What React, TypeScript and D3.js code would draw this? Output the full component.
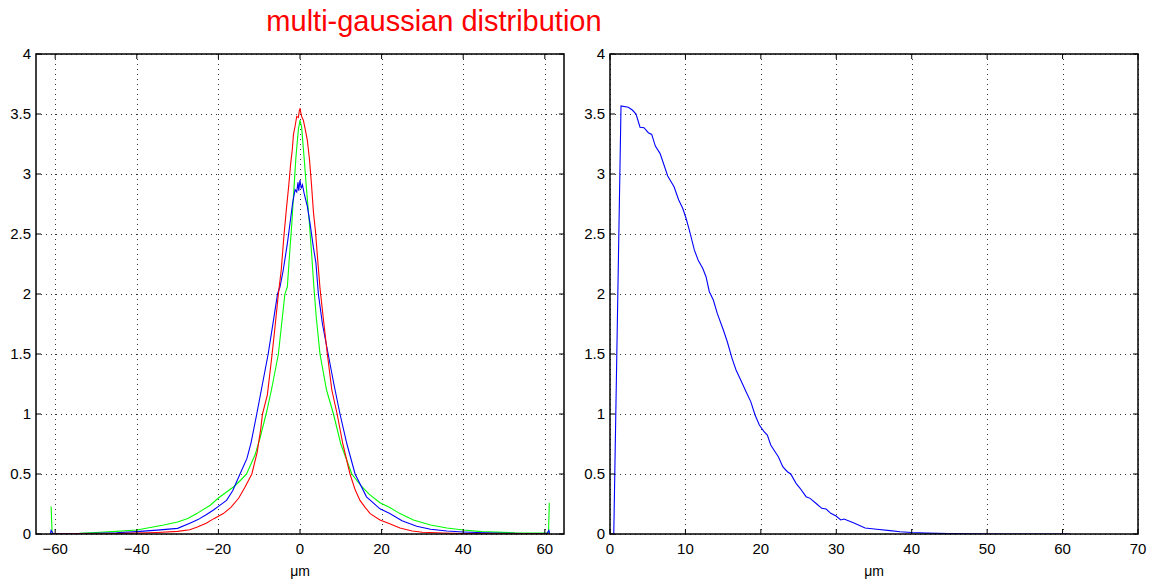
import React from 'react';
import * as d3 from 'd3';

const TITLE = 'multi-gaussian distribution';
const X_LABEL = 'μm';

const leftXTicks = [-60, -40, -20, 0, 20, 40, 60];
const rightXTicks = [0, 10, 20, 30, 40, 50, 60, 70];
const yTicks = [0, 0.5, 1, 1.5, 2, 2.5, 3, 3.5, 4];
const yTickLabels = ['0', '0.5', '1', '1.5', '2', '2.5', '3', '3.5', '4'];

// left panel: red series
const redX = [-61, -50, -45, -40, -35, -30, -27, -25, -23, -21, -18.8, -17, -15, -13.5, -11.8, -10.5, -9.6, -9.2, -8, -7, -6.2, -5.3, -4.6, -3.9, -3.3, -2.8, -2.3, -1.9, -1.6, -1.2, -0.8, -0.4, -0.2, 0, 0.25, 0.5, 0.8, 1.3, 1.8, 2.3, 2.8, 3.3, 3.8, 4.3, 4.9, 5.7, 6.7, 7.8, 9.1, 10.5, 12.25, 13.5, 14.7, 16, 17.2, 19.6, 22, 24.5, 27.5, 30, 35, 40, 50, 61];
const redY = [0, 0.002, 0.004, 0.007, 0.013, 0.022, 0.035, 0.06, 0.09, 0.13, 0.17, 0.22, 0.3, 0.39, 0.5, 0.68, 0.88, 1.0, 1.16, 1.45, 1.7, 2.0, 2.2, 2.5, 2.72, 2.89, 3.08, 3.2, 3.33, 3.4, 3.48, 3.47, 3.52, 3.55, 3.5, 3.47, 3.45, 3.37, 3.28, 3.13, 2.92, 2.68, 2.52, 2.3, 2.05, 1.8, 1.5, 1.2, 1.0, 0.75, 0.5, 0.37, 0.28, 0.22, 0.17, 0.117, 0.085, 0.05, 0.025, 0.015, 0.008, 0.004, 0.002, 0];

// left panel: blue series
const blueX = [-61.2, -61, -60.5, -55, -50, -45, -40, -35, -30, -27, -25, -23, -21.2, -20, -18, -16.5, -14.7, -13, -12, -10.6, -9.2, -7.8, -6.6, -5.5, -4.9, -4.1, -3.1, -2.45, -1.8, -1.2, -0.8, -0.5, -0.3, 0, 0.3, 0.6, 1.0, 1.8, 2.45, 3.27, 3.9, 4.5, 5.5, 6.9, 8.3, 9.8, 11.5, 13.5, 16.3, 19.6, 22, 25, 28.6, 32, 36, 40, 45, 50, 55, 60.5, 61, 61.2];
const blueY = [0, 0.03, 0.003, 0.004, 0.006, 0.01, 0.02, 0.032, 0.047, 0.09, 0.12, 0.16, 0.2, 0.23, 0.28, 0.36, 0.5, 0.63, 0.76, 1.0, 1.25, 1.5, 1.76, 2.0, 2.06, 2.2, 2.42, 2.59, 2.76, 2.87, 2.85, 2.93, 2.86, 2.95, 2.88, 2.91, 2.84, 2.73, 2.59, 2.39, 2.26, 2.0, 1.75, 1.5, 1.25, 1.0, 0.75, 0.5, 0.31, 0.21, 0.17, 0.11, 0.065, 0.04, 0.025, 0.017, 0.01, 0.006, 0.004, 0.003, 0.03, 0];

// left panel: green series
const greenX = [-61, -60.75, -54, -50, -46, -40, -33.4, -30, -27.5, -25.3, -22, -20, -18, -16, -14.5, -13.1, -11, -9.8, -8.3, -7, -5.3, -4.5, -3.7, -3.1, -2.6, -2.0, -1.5, -1.0, -0.4, 0, 0.4, 1.0, 1.6, 2.3, 2.9, 3.4, 4.0, 4.9, 6.5, 8.2, 10, 12.7, 15, 17, 19.6, 22, 24.5, 27.8, 32, 36, 40, 44.5, 52.7, 60, 60.9, 61.1];
const greenY = [0.23, 0.004, 0.005, 0.012, 0.02, 0.033, 0.075, 0.1, 0.13, 0.17, 0.24, 0.3, 0.35, 0.4, 0.45, 0.5, 0.66, 0.8, 1.0, 1.2, 1.5, 1.75, 2.0, 2.06, 2.31, 2.59, 2.87, 3.14, 3.37, 3.45, 3.39, 3.14, 2.87, 2.59, 2.31, 2.06, 1.8, 1.5, 1.2, 1.0, 0.75, 0.5, 0.4, 0.33, 0.26, 0.22, 0.17, 0.117, 0.075, 0.05, 0.033, 0.02, 0.01, 0.008, 0.008, 0.26];

// right panel: blue series
const distX = [0.5, 1.46, 2.43, 2.96, 3.45, 3.98, 4.51, 5.08, 5.53, 6.01, 6.63, 7.16, 7.65, 8.49, 9.11, 9.64, 10.08, 10.52, 11.18, 11.71, 12.29, 12.73, 13.17, 13.7, 14.23, 15.03, 15.56, 16.18, 16.71, 17.33, 18.04, 18.66, 19.23, 19.8, 20.42, 20.86, 21.31, 21.88, 22.32, 22.9, 23.52, 23.96, 24.67, 25.2, 26.0, 26.53, 27.41, 28.08, 28.65, 29.27, 29.97, 30.59, 31.03, 32.27, 33.82, 35.37, 37.13, 38.46, 40, 42, 45, 48, 52, 61];
const distY = [0, 3.567, 3.556, 3.533, 3.5, 3.39, 3.386, 3.344, 3.33, 3.233, 3.172, 3.075, 2.983, 2.894, 2.783, 2.714, 2.631, 2.533, 2.367, 2.278, 2.214, 2.144, 2.019, 1.95, 1.836, 1.7, 1.6, 1.464, 1.367, 1.283, 1.186, 1.103, 0.992, 0.908, 0.853, 0.825, 0.742, 0.686, 0.644, 0.561, 0.519, 0.5, 0.422, 0.381, 0.311, 0.297, 0.25, 0.214, 0.208, 0.172, 0.15, 0.117, 0.125, 0.094, 0.05, 0.039, 0.028, 0.019, 0.012, 0.007, 0.003, 0.001, 0, 0];

const FONT = '"Liberation Sans", Arial, Helvetica, sans-serif';

type Series = { xs: number[]; ys: number[]; color: string };

function Panel(props: {
  id: string;
  left: number;
  right: number;
  top: number;
  bottom: number;
  xDomain: [number, number];
  xTicks: number[];
  series: Series[];
}) {
  const { id, left, right, top, bottom, xDomain, xTicks, series } = props;
  const x = d3.scaleLinear().domain(xDomain).range([left, right]);
  const y = d3.scaleLinear().domain([0, 4]).range([bottom, top]);
  const tl = 5;
  const line = d3
    .line<[number, number]>()
    .x((d) => x(d[0]))
    .y((d) => y(d[1]));
  const fmtX = (v: number) => (v < 0 ? '\u2212' + Math.abs(v) : String(v));
  return (
    <g>
      <defs>
        <clipPath id={id}>
          <rect x={left} y={top} width={right - left} height={bottom - top} />
        </clipPath>
      </defs>
      {/* grid */}
      <g stroke="#333" strokeWidth={1} strokeDasharray="1,4" shapeRendering="crispEdges">
        {xTicks.map((t) => (
          <line key={'gx' + t} x1={Math.round(x(t)) + 0.5} x2={Math.round(x(t)) + 0.5} y1={top} y2={bottom} />
        ))}
        {yTicks.map((t) => (
          <line key={'gy' + t} x1={left} x2={right} y1={Math.round(y(t)) + 0.5} y2={Math.round(y(t)) + 0.5} />
        ))}
      </g>
      {/* data */}
      <g clipPath={`url(#${id})`} fill="none" strokeWidth={1.1}>
        {series.map((s, i) => (
          <path
            key={i}
            d={line(s.xs.map((v, k) => [v, s.ys[k]] as [number, number])) || ''}
            stroke={s.color}
          />
        ))}
      </g>
      {/* box */}
      <rect x={left} y={top} width={right - left} height={bottom - top} fill="none" stroke="#000" strokeWidth={1.5} />
      {/* ticks */}
      <g stroke="#000" strokeWidth={1}>
        {xTicks.map((t) => (
          <g key={'tx' + t}>
            <line x1={x(t)} x2={x(t)} y1={bottom} y2={bottom - tl} />
            <line x1={x(t)} x2={x(t)} y1={top} y2={top + tl} />
          </g>
        ))}
        {yTicks.map((t) => (
          <g key={'ty' + t}>
            <line x1={left} x2={left + tl} y1={y(t)} y2={y(t)} />
            <line x1={right} x2={right - tl} y1={y(t)} y2={y(t)} />
          </g>
        ))}
      </g>
      {/* tick labels */}
      <g fontFamily={FONT} fontSize={15} fill="#000">
        {xTicks.map((t) => (
          <text key={'lx' + t} x={x(t)} y={bottom + 20} textAnchor="middle">
            {fmtX(t)}
          </text>
        ))}
        {yTicks.map((t, i) => (
          <text key={'ly' + t} x={left - 5} y={y(t) + 5} textAnchor="end">
            {yTickLabels[i]}
          </text>
        ))}
      </g>
      <text x={(left + right) / 2} y={576} textAnchor="middle" fontFamily={FONT} fontSize={14} fill="#000">
        {X_LABEL}
      </text>
    </g>
  );
}

export default function App() {
  return (
    <svg
      width={1154}
      height={583}
      style={{ position: 'absolute', left: 0, top: 0, background: '#fff' }}
    >
      <rect x={0} y={0} width={1154} height={583} fill="#fff" />
      <text x={434} y={31} textAnchor="middle" fontFamily={FONT} fontSize={29} fill="#ff0000">
        {TITLE}
      </text>
      <Panel
        id="clipL"
        left={36}
        right={564}
        top={54}
        bottom={534}
        xDomain={[-64.7, 64.7]}
        xTicks={leftXTicks}
        series={[
          { xs: greenX, ys: greenY, color: '#00ff00' },
          { xs: blueX, ys: blueY, color: '#0000ff' },
          { xs: redX, ys: redY, color: '#ff0000' },
        ]}
      />
      <Panel
        id="clipR"
        left={610}
        right={1138}
        top={54}
        bottom={534}
        xDomain={[0, 70]}
        xTicks={rightXTicks}
        series={[{ xs: distX, ys: distY, color: '#0000ff' }]}
      />
    </svg>
  );
}
